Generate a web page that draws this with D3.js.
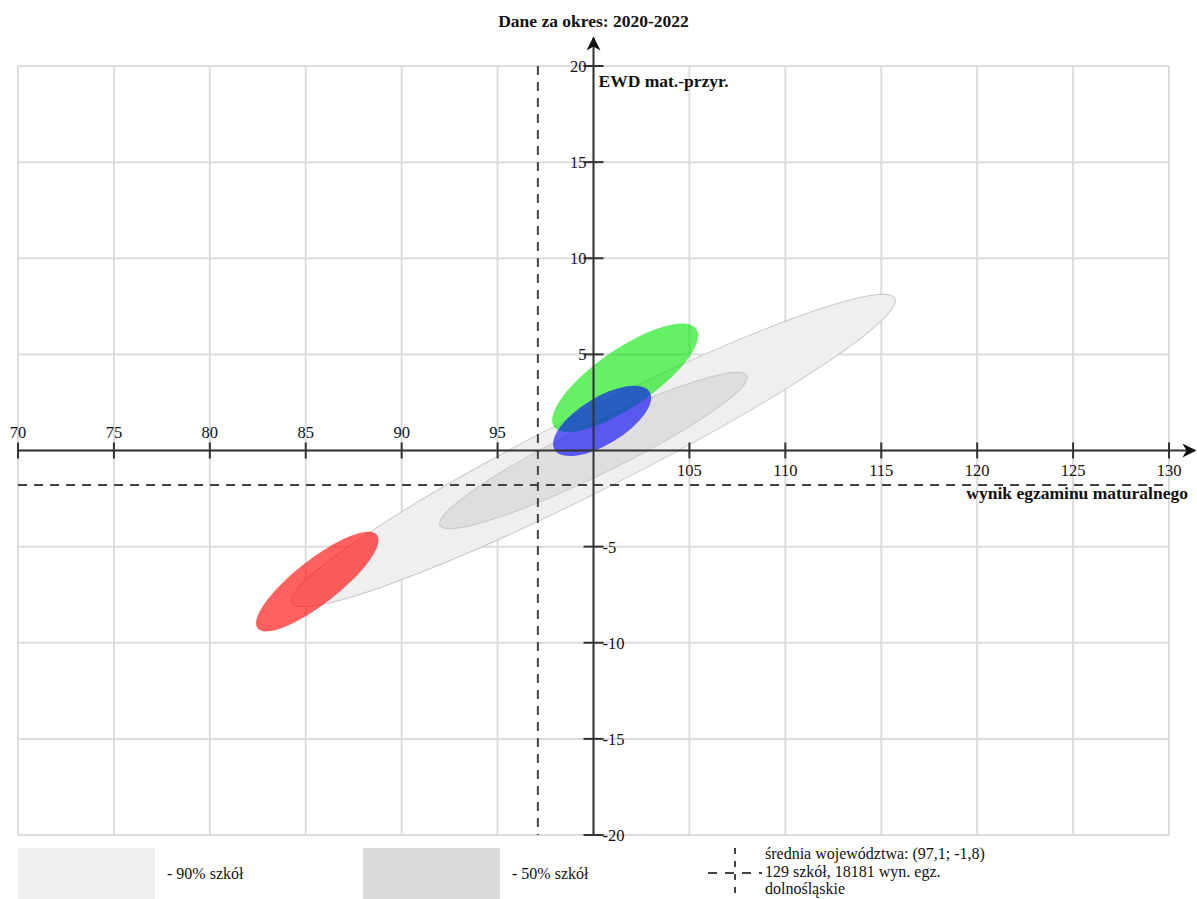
<!DOCTYPE html>
<html lang="pl">
<head>
    <meta charset="UTF-8">
    <title>EWD mat.-przyr.</title>
    <script type="application/javascript" src="https://cdnjs.cloudflare.com/ajax/libs/d3/7.8.5/d3.min.js"></script>
    <style type="text/css">
        body { margin: 0; background: #fff; }
        text { font-family: "Liberation Serif", "DejaVu Serif", serif; fill: #111; }
        .grid line { stroke: #dcdcdc; stroke-width: 2; }
    </style>
</head>
<body>
<svg id="chart" width="1197" height="899"></svg>
<script type="application/javascript">
    // ticks
    var xTicks = [70, 75, 80, 85, 90, 95, 100, 105, 110, 115, 120, 125, 130];
    var yTicks = [-20, -15, -10, -5, 0, 5, 10, 15, 20];

    // mean of the voivodeship
    var meanPoint = [97.1, -1.8];

    // ellipses: centre x, centre y, semi-major, semi-minor (x units), angle (deg)
    var bandNames = ['90', '50'];
    var bandCx = [100.0, 100.0];
    var bandCy = [0.0, 0.0];
    var bandA = [17.6, 8.9];
    var bandB = [2.05, 1.3];
    var bandAngle = [26.8, 26.0];

    var schoolNames = ['red', 'green', 'blue'];
    var schoolCx = [85.6, 101.65, 100.45];
    var schoolCy = [-6.82, 3.78, 1.54];
    var schoolA = [3.95, 4.5, 2.9];
    var schoolB = [1.15, 1.5, 1.22];
    var schoolAngle = [38, 34.5, 31.4];

    var legendTexts = ['średnia województwa: (97,1; -1,8)', '129 szkół, 18181 wyn. egz.', 'dolnośląskie'];

    (function () {
        var svg = d3.select('#chart');
        var pLeft = 18, pRight = 1169, pTop = 66, pBottom = 835;

        var x = d3.scaleLinear().domain([70, 130]).range([pLeft, pRight]);
        var y = d3.scaleLinear().domain([-20, 20]).range([pBottom, pTop]);

        // grid
        var grid = svg.append('g').attr('class', 'grid');
        grid.selectAll('.vx').data(xTicks).enter().append('line')
            .attr('x1', d => x(d)).attr('x2', d => x(d))
            .attr('y1', pTop).attr('y2', pBottom);
        grid.selectAll('.hy').data(yTicks).enter().append('line')
            .attr('x1', pLeft).attr('x2', pRight)
            .attr('y1', d => y(d)).attr('y2', d => y(d));

        function drawEllipse(g, cx, cy, a, b, ang) {
            return g.append('ellipse')
                .attr('transform', 'translate(' + x(cx) + ',' + y(cy) + ') rotate(' + (-ang) + ')')
                .attr('rx', x(cx + a) - x(cx))
                .attr('ry', x(cx + b) - x(cx));
        }

        var bandFill = ['#efefef', '#dadada'];
        var bands = svg.append('g');
        bandNames.forEach(function (n, i) {
            drawEllipse(bands, bandCx[i], bandCy[i], bandA[i], bandB[i], bandAngle[i])
                .attr('fill', bandFill[i])
                .attr('fill-opacity', i === 0 ? 1 : 0.85)
                .attr('stroke', '#c8c8c8')
                .attr('stroke-width', 1);
        });

        // mean lines
        svg.append('line')
            .attr('x1', x(meanPoint[0])).attr('x2', x(meanPoint[0]))
            .attr('y1', pTop).attr('y2', pBottom)
            .attr('stroke', '#444').attr('stroke-width', 2).attr('stroke-dasharray', '9,7');
        svg.append('line')
            .attr('x1', pLeft).attr('x2', pRight)
            .attr('y1', y(meanPoint[1])).attr('y2', y(meanPoint[1]))
            .attr('stroke', '#444').attr('stroke-width', 2).attr('stroke-dasharray', '9,7');

        var schoolFill = { red: '#ff0000', green: '#00e600', blue: '#0000ff' };
        var schoolOp = { red: 0.62, green: 0.6, blue: 0.6 };
        var schools = svg.append('g');
        schoolNames.forEach(function (n, i) {
            drawEllipse(schools, schoolCx[i], schoolCy[i], schoolA[i], schoolB[i], schoolAngle[i])
                .attr('fill', schoolFill[n])
                .attr('fill-opacity', schoolOp[n]);
        });

        // arrow marker
        svg.append('defs').append('marker')
            .attr('id', 'arrow')
            .attr('viewBox', '0 0 10 10')
            .attr('refX', 9).attr('refY', 5)
            .attr('markerWidth', 16).attr('markerHeight', 14)
            .attr('markerUnits', 'userSpaceOnUse')
            .attr('orient', 'auto')
            .append('path').attr('d', 'M0,0 L10,5 L0,10 L3,5 Z').attr('fill', '#111');

        var axisColor = '#333';
        // x axis
        svg.append('line')
            .attr('x1', x(70)).attr('x2', 1195)
            .attr('y1', y(0)).attr('y2', y(0))
            .attr('stroke', axisColor).attr('stroke-width', 2)
            .attr('marker-end', 'url(#arrow)');
        var xt = xTicks.filter(d => d !== 100);
        svg.selectAll('.xtick').data(xt).enter().append('line')
            .attr('x1', d => x(d)).attr('x2', d => x(d))
            .attr('y1', y(0) - 8).attr('y2', y(0) + 8)
            .attr('stroke', axisColor).attr('stroke-width', 2);
        svg.selectAll('.xlab').data(xt).enter().append('text')
            .attr('x', d => x(d))
            .attr('y', d => d < 100 ? y(0) - 13 : y(0) + 25)
            .attr('text-anchor', 'middle')
            .attr('font-size', 16.5)
            .text(d => d);

        // y axis
        svg.append('line')
            .attr('x1', x(100)).attr('x2', x(100))
            .attr('y1', y(-20)).attr('y2', 38)
            .attr('stroke', axisColor).attr('stroke-width', 2)
            .attr('marker-end', 'url(#arrow)');
        var yt = yTicks.filter(d => d !== 0);
        svg.selectAll('.ytick').data(yt).enter().append('line')
            .attr('x1', x(100) - 10).attr('x2', x(100) + 10)
            .attr('y1', d => y(d)).attr('y2', d => y(d))
            .attr('stroke', axisColor).attr('stroke-width', 2);
        svg.selectAll('.ylab').data(yt).enter().append('text')
            .attr('x', d => d > 0 ? x(100) - 7 : x(100) + 9)
            .attr('y', d => y(d) + 6)
            .attr('text-anchor', d => d > 0 ? 'end' : 'start')
            .attr('font-size', 16.5)
            .text(d => d);

        // axis titles
        svg.append('text')
            .attr('x', x(100)).attr('y', 27)
            .attr('text-anchor', 'middle')
            .attr('font-size', 17.5).attr('font-weight', 'bold')
            .text('Dane za okres: 2020-2022');
        svg.append('text')
            .attr('x', x(100) + 5).attr('y', 87)
            .attr('font-size', 17.5).attr('font-weight', 'bold')
            .text('EWD mat.-przyr.');
        svg.append('text')
            .attr('x', 1188).attr('y', 499)
            .attr('text-anchor', 'end')
            .attr('font-size', 17.5).attr('font-weight', 'bold')
            .text('wynik egzaminu maturalnego');

        // legend
        var leg = svg.append('g');
        var legBoxX = [18, 363];
        var legLabels = ['- 90% szkół', '- 50% szkół'];
        legBoxX.forEach(function (bx, i) {
            leg.append('rect')
                .attr('x', bx).attr('y', 848).attr('width', 137).attr('height', 51)
                .attr('fill', bandFill[i]);
            leg.append('text')
                .attr('x', bx + 149).attr('y', 879)
                .attr('font-size', 16)
                .text(legLabels[i]);
        });
        var cx0 = 735, cy0 = 873;
        leg.append('line').attr('x1', cx0).attr('x2', cx0).attr('y1', 848).attr('y2', 899)
            .attr('stroke', '#444').attr('stroke-width', 2).attr('stroke-dasharray', '6,7');
        leg.append('line').attr('x1', 708).attr('x2', 762).attr('y1', cy0).attr('y2', cy0)
            .attr('stroke', '#444').attr('stroke-width', 2).attr('stroke-dasharray', '9,8');
        leg.selectAll('.lt').data(legendTexts).enter().append('text')
            .attr('x', 765)
            .attr('y', (d, i) => 859 + i * 17.5)
            .attr('font-size', 16)
            .text(d => d);
    })();
</script>
</body>
</html>
